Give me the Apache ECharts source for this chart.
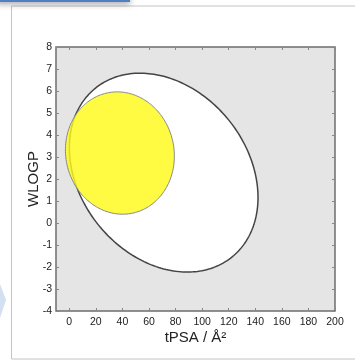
<!DOCTYPE html>
<html><head><meta charset="utf-8">
<script src="https://cdn.jsdelivr.net/npm/echarts@6/dist/echarts.min.js"></script>
<style>html,body{margin:0;padding:0;background:#fff;overflow:hidden}#c{width:355px;height:361px}</style>
</head><body><div id="c"></div>
<script>
// tick labels
const xTicks = [0, 20, 40, 60, 80, 100, 120, 140, 160, 180, 200];
const yTicks = [-4, -3, -2, -1, 0, 1, 2, 3, 4, 5, 6, 7, 8];
// regions: [center tPSA, center WLOGP, half-width tPSA, half-height WLOGP, tilt]
const eggWhite = [71.05, 2.29, 71.0, 4.52, -0.25];
const eggYolk = [38.1, 3.18, 41.0, 2.78, -0.05];

const chart = echarts.init(document.getElementById('c'), null, {renderer: 'canvas'});
const FONT = 'Liberation Sans, Arial, sans-serif';

function makeRender(fill, stroke, lw) {
  return function (params, api) {
    const cx = api.value(0), cy = api.value(1), rx = api.value(2), ry = api.value(3), rho = api.value(4);
    const s = Math.sqrt(1 - rho * rho);
    const pts = [];
    for (let i = 0; i < 240; i++) {
      const t = i / 240 * 2 * Math.PI;
      pts.push(api.coord([cx + rx * Math.cos(t), cy + ry * (rho * Math.cos(t) + s * Math.sin(t))]));
    }
    return {type: 'polygon', shape: {points: pts}, style: {fill: fill, stroke: stroke, lineWidth: lw}};
  };
}

const tickStyle = {show: true, inside: true, length: 3, lineStyle: {color: '#888', width: 1}};
const labelStyle = {color: '#222', fontSize: 10.5, fontFamily: FONT};
const noLine = {show: false, onZero: false};

chart.setOption({
  animation: false,
  backgroundColor: '#fff',
  graphic: [
    {type: 'rect', shape: {x: 11.5, y: 6, width: 400, height: 353}, style: {fill: 'none', stroke: '#c4c4c4', lineWidth: 1}, z: 0},
    {type: 'rect', shape: {x: -5, y: -6, width: 135, height: 8}, style: {fill: '#4f7fc4', shadowBlur: 6, shadowColor: 'rgba(0,0,0,0.35)', shadowOffsetY: 2}, z: 0},
    {type: 'polygon', shape: {points: [[0, 284], [6, 300], [0, 318]]}, style: {fill: '#d3e0f1'}, z: 0}
  ],
  grid: {left: 56, right: 20, top: 47, bottom: 50, show: true, backgroundColor: '#e5e5e5', borderColor: '#6e6e6e', borderWidth: 1.5},
  xAxis: [
    {type: 'value', position: 'bottom', min: -10, max: 200,
      name: 'tPSA / Å²', nameLocation: 'middle', nameGap: 19, nameMoveOverlap: false,
      nameTextStyle: {color: '#222', fontSize: 15, fontFamily: FONT},
      axisLine: noLine, splitLine: {show: false},
      axisTick: Object.assign({customValues: xTicks}, tickStyle),
      axisLabel: Object.assign({customValues: xTicks, margin: 6}, labelStyle)},
    {type: 'value', position: 'top', min: -10, max: 200,
      axisLine: noLine, splitLine: {show: false},
      axisTick: Object.assign({customValues: xTicks}, tickStyle),
      axisLabel: {show: false}}
  ],
  yAxis: [
    {type: 'value', position: 'left', min: -4, max: 8, interval: 1,
      name: 'WLOGP', nameLocation: 'middle', nameGap: 15, nameRotate: 90, nameMoveOverlap: false,
      nameTextStyle: {color: '#222', fontSize: 15, fontFamily: FONT},
      axisLine: noLine, splitLine: {show: false},
      axisTick: tickStyle,
      axisLabel: Object.assign({margin: 4}, labelStyle)},
    {type: 'value', position: 'right', min: -4, max: 8, interval: 1,
      axisLine: noLine, splitLine: {show: false},
      axisTick: tickStyle, axisLabel: {show: false}}
  ],
  series: [
    {type: 'custom', name: 'white', renderItem: makeRender('#ffffff', '#444444', 1.5),
      data: [eggWhite], encode: {x: 0, y: 1}, silent: true},
    {type: 'custom', name: 'yolk', renderItem: makeRender('rgba(255,250,25,0.82)', '#888888', 1),
      data: [eggYolk], encode: {x: 0, y: 1}, silent: true}
  ]
});
</script></body></html>
